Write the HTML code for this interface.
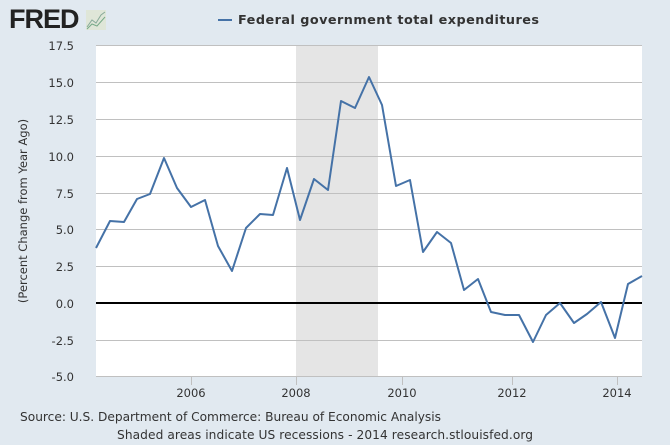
<!DOCTYPE html><html><head><style>body{margin:0;background:#e1e9f0}svg{display:block}text{font-family:"DejaVu Sans",sans-serif;fill:#333}</style></head><body>
<svg width="670" height="445" viewBox="0 0 670 445">
<rect width="670" height="445" fill="#e1e9f0"/>
<text x="9" y="28" font-family="Liberation Sans" font-weight="bold" font-size="27" fill="#222" style="font-family:'Liberation Sans',sans-serif;fill:#222;letter-spacing:-1px">FRED</text>
<rect x="86" y="10" width="20" height="20" fill="#dfe6d8"/>
<polyline points="87,27 92,20 96,23 101,15 105,12" fill="none" stroke="#8a9" stroke-width="1"/>
<polyline points="87,29 92,24 97,26 105,17" fill="none" stroke="#7a8" stroke-width="1"/>
<line x1="218" y1="20" x2="232" y2="20" stroke="#4572a7" stroke-width="2"/>
<text x="238" y="24" font-size="12.8" font-weight="bold" textLength="301" lengthAdjust="spacing">Federal government total expenditures</text>
<rect x="96" y="45" width="546" height="332" fill="#fff"/>
<rect x="296" y="45" width="82" height="332" fill="#e5e5e5"/>
<g stroke="#c0c0c0" stroke-width="1">
<line x1="96" y1="45.5" x2="642" y2="45.5"/><line x1="96" y1="82.5" x2="642" y2="82.5"/><line x1="96" y1="119.5" x2="642" y2="119.5"/><line x1="96" y1="156.5" x2="642" y2="156.5"/><line x1="96" y1="193.5" x2="642" y2="193.5"/><line x1="96" y1="229.5" x2="642" y2="229.5"/><line x1="96" y1="266.5" x2="642" y2="266.5"/><line x1="96" y1="340.5" x2="642" y2="340.5"/><line x1="96" y1="376.5" x2="642" y2="376.5"/>
<line x1="191.5" y1="377" x2="191.5" y2="385"/><line x1="296.5" y1="377" x2="296.5" y2="385"/><line x1="402.5" y1="377" x2="402.5" y2="385"/><line x1="512.5" y1="377" x2="512.5" y2="385"/><line x1="617.5" y1="377" x2="617.5" y2="385"/>
</g>
<line x1="96" y1="303" x2="642" y2="303" stroke="#000" stroke-width="2"/>
<g font-size="11.5" text-anchor="end">
<text x="74" y="50">17.5</text><text x="74" y="87">15.0</text><text x="74" y="124">12.5</text><text x="74" y="161">10.0</text><text x="74" y="198">7.5</text><text x="74" y="234">5.0</text><text x="74" y="271">2.5</text><text x="74" y="308">0.0</text><text x="74" y="345">-2.5</text><text x="74" y="381">-5.0</text>
</g>
<g font-size="11.5" text-anchor="middle">
<text x="191" y="397">2006</text><text x="296" y="397">2008</text><text x="402" y="397">2010</text><text x="512" y="397">2012</text><text x="617" y="397">2014</text>
</g>
<text transform="translate(27,211) rotate(-90)" font-size="11.5" text-anchor="middle">(Percent Change from Year Ago)</text>
<text x="20" y="421" font-size="12.2" textLength="421" lengthAdjust="spacing">Source: U.S. Department of Commerce: Bureau of Economic Analysis</text>
<text x="117" y="439" font-size="12.2" textLength="416" lengthAdjust="spacing">Shaded areas indicate US recessions - 2014 research.stlouisfed.org</text>
<polyline fill="none" stroke="#4572a7" stroke-width="2" stroke-linejoin="round" points="96,248 110,221 124,222 137,199 150,194 164,158 177,188 191,207 205,200 218,246 232,271 246,228 260,214 273,215 287,168 300,220 314,179 328,190 341,101 355,108 369,77 382,105 396,186 410,180 423,252 437,232 451,243 464,290 478,279 491,312 505,315 519,315 533,342 546,315 560,303 574,323 587,314 601,302 615,338 628,284 642,276"/>
</svg>
</body></html>
